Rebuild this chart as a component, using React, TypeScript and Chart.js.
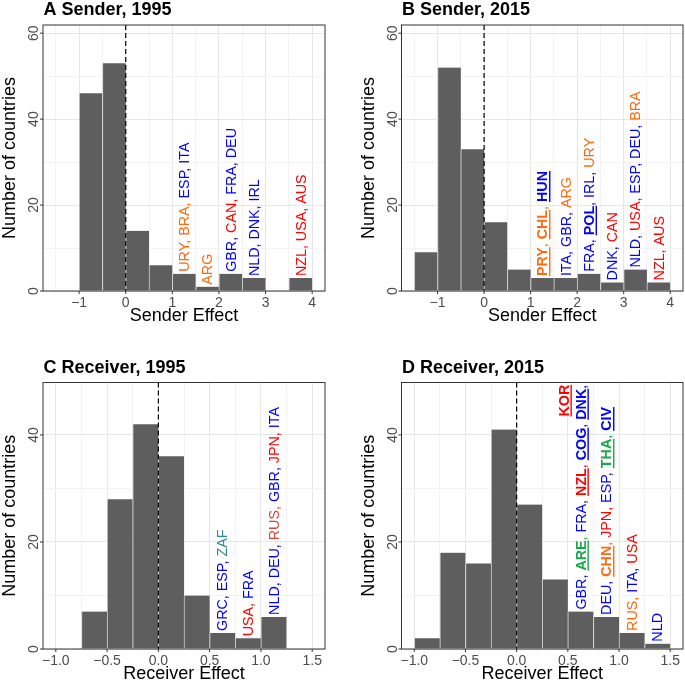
import React, { useEffect, useRef } from "react";
import { Chart, registerables } from "chart.js";

Chart.register(...registerables);

// ---------- data ----------
const senderBins = [-1.25, -0.75, -0.25, 0.25, 0.75, 1.25, 1.75, 2.25, 2.75, 3.25, 3.75];
const sender1995Counts = [0, 46, 53, 14, 6, 4, 1, 4, 3, 0, 3];
const sender2015Counts = [9, 52, 33, 16, 5, 3, 3, 4, 2, 5, 2];

const receiverBins = [-0.875, -0.625, -0.375, -0.125, 0.125, 0.375, 0.625, 0.875, 1.125, 1.375];
const receiver1995Counts = [0, 7, 28, 42, 36, 10, 3, 2, 6, 0];
const receiver2015Counts = [2, 18, 16, 41, 27, 13, 7, 6, 3, 1];

const senderXTicks = [-1.5, -1, -0.5, 0, 0.5, 1, 1.5, 2, 2.5, 3, 3.5, 4];
const senderXMajor = [-1, 0, 1, 2, 3, 4];
const senderXLabels = ["\u22121", "0", "1", "2", "3", "4"];
const receiverXTicks = [-1, -0.75, -0.5, -0.25, 0, 0.25, 0.5, 0.75, 1, 1.25, 1.5];
const receiverXMajor = [-1, -0.5, 0, 0.5, 1, 1.5];
const receiverXLabels = ["\u22121.0", "\u22120.5", "0.0", "0.5", "1.0", "1.5"];

const senderYTicks = [0, 10, 20, 30, 40, 50, 60];
const senderYMajor = [0, 20, 40, 60];
const senderYLabels = ["0", "20", "40", "60"];
const receiverYTicks = [0, 10, 20, 30, 40];
const receiverYMajor = [0, 20, 40];
const receiverYLabels = ["0", "20", "40"];

const BLUE = "#0000FF";
const RED = "#FF0000";
const ORANGE = "#FF6A10";
const GREEN = "#1BA84A";
const TEAL = "#2E8B9A";
const INDIANRED = "#D4493E";

type Seg = [string, string, boolean?];
type Label = { x: number; lines: Seg[][] };

const sender1995Labels: Label[] = [
  { x: 1.25, lines: [[["URY, ", ORANGE], ["BRA, ", ORANGE], ["ESP, ", BLUE], ["ITA", BLUE]]] },
  { x: 1.75, lines: [[["ARG", ORANGE]]] },
  { x: 2.25, lines: [[["GBR, ", BLUE], ["CAN, ", RED], ["FRA, DEU", BLUE]]] },
  { x: 2.75, lines: [[["NLD, DNK, IRL", BLUE]]] },
  { x: 3.75, lines: [[["NZL, USA, AUS", RED]]] },
];

const sender2015Labels: Label[] = [
  { x: 1.25, lines: [[["PRY", ORANGE, true], [", ", ORANGE], ["CHL", ORANGE, true], [", ", ORANGE], ["HUN", BLUE, true]]] },
  { x: 1.75, lines: [[["ITA, GBR, ", BLUE], ["ARG", ORANGE]]] },
  { x: 2.25, lines: [[["FRA, ", BLUE], ["POL", BLUE, true], [", IRL, ", BLUE], ["URY", ORANGE]]] },
  { x: 2.75, lines: [[["DNK, ", BLUE], ["CAN", RED]]] },
  { x: 3.25, lines: [[["NLD, ", BLUE], ["USA, ", RED], ["ESP, DEU, ", BLUE], ["BRA", ORANGE]]] },
  { x: 3.75, lines: [[["NZL, AUS", RED]]] },
];

const receiver1995Labels: Label[] = [
  { x: 0.625, lines: [[["GRC, ESP, ", BLUE], ["ZAF", TEAL]]] },
  { x: 0.875, lines: [[["USA, ", RED], ["FRA", BLUE]]] },
  { x: 1.125, lines: [[["NLD, DEU, ", BLUE], ["RUS, ", INDIANRED], ["GBR, ", BLUE], ["JPN, ", RED], ["ITA", BLUE]]] },
];

const receiver2015Labels: Label[] = [
  {
    x: 0.625,
    lines: [
      [["GBR, ", BLUE], ["ARE", GREEN, true], [", ", GREEN], ["FRA, ", BLUE], ["NZL", RED, true], [", ", RED], ["COG", BLUE, true], [", ", BLUE], ["DNK", BLUE, true], [",", BLUE]],
      [["KOR", RED, true]],
    ],
  },
  { x: 0.875, lines: [[["DEU, ", BLUE], ["CHN", ORANGE, true], [", ", ORANGE], ["JPN, ", RED], ["ESP, ", BLUE], ["THA", GREEN, true], [", ", GREEN], ["CIV", BLUE, true]]] },
  { x: 1.125, lines: [[["RUS, ", ORANGE], ["ITA, ", BLUE], ["USA", RED]]] },
  { x: 1.375, lines: [[["NLD", BLUE]]] },
];

// ---------- panel configs ----------
type PanelCfg = {
  title: string;
  xTitle: string;
  bins: number[];
  counts: number[];
  labels: Label[];
  xMin: number;
  xMax: number;
  yMax: number;
  xTicks: number[];
  xMajor: number[];
  xLabels: string[];
  yTicks: number[];
  yMajor: number[];
  yLabels: string[];
  canvas: [number, number, number, number];
  plot: [number, number, number, number];
};

const panels: PanelCfg[] = [
  {
    title: "A Sender, 1995", xTitle: "Sender Effect", bins: senderBins, counts: sender1995Counts, labels: sender1995Labels,
    xMin: -1.775, xMax: 4.275, yMax: 61.9, xTicks: senderXTicks, xMajor: senderXMajor, xLabels: senderXLabels,
    yTicks: senderYTicks, yMajor: senderYMajor, yLabels: senderYLabels,
    canvas: [0, 0, 342, 330], plot: [43, 25, 325, 291],
  },
  {
    title: "B Sender, 2015", xTitle: "Sender Effect", bins: senderBins, counts: sender2015Counts, labels: sender2015Labels,
    xMin: -1.775, xMax: 4.275, yMax: 61.9, xTicks: senderXTicks, xMajor: senderXMajor, xLabels: senderXLabels,
    yTicks: senderYTicks, yMajor: senderYMajor, yLabels: senderYLabels,
    canvas: [342, 0, 343, 330], plot: [401.5, 25, 683, 291],
  },
  {
    title: "C Receiver, 1995", xTitle: "Receiver Effect", bins: receiverBins, counts: receiver1995Counts, labels: receiver1995Labels,
    xMin: -1.125, xMax: 1.625, yMax: 49.8, xTicks: receiverXTicks, xMajor: receiverXMajor, xLabels: receiverXLabels,
    yTicks: receiverYTicks, yMajor: receiverYMajor, yLabels: receiverYLabels,
    canvas: [0, 330, 342, 351], plot: [43, 382.5, 325, 649],
  },
  {
    title: "D Receiver, 2015", xTitle: "Receiver Effect", bins: receiverBins, counts: receiver2015Counts, labels: receiver2015Labels,
    xMin: -1.125, xMax: 1.625, yMax: 49.8, xTicks: receiverXTicks, xMajor: receiverXMajor, xLabels: receiverXLabels,
    yTicks: receiverYTicks, yMajor: receiverYMajor, yLabels: receiverYLabels,
    canvas: [342, 330, 343, 351], plot: [401.5, 382.5, 683, 649],
  },
];

const FONT = "'Liberation Sans', Arial, Helvetica, sans-serif";
const LABEL_SIZE = 14.3;
const LINE_H = 17;

const isIn = (arr: number[], v: number) => arr.some((a) => Math.abs(a - v) < 1e-9);

function segFont(s: Seg) {
  return `${s[2] ? "bold " : ""}${LABEL_SIZE}px ${FONT}`;
}

function drawLabel(ctx: CanvasRenderingContext2D, xPix: number, yPix: number, lines: Seg[][]) {
  ctx.save();
  ctx.translate(xPix, yPix - 2);
  ctx.rotate(-Math.PI / 2);
  ctx.textAlign = "left";
  ctx.textBaseline = "alphabetic";
  const widths = lines.map((line) =>
    line.reduce((w, s) => {
      ctx.font = segFont(s);
      return w + ctx.measureText(s[0]).width;
    }, 0)
  );
  lines.forEach((line, li) => {
    let cx = li === 0 ? 0 : widths[0] - widths[li];
    const cy = -li * LINE_H + 5;
    for (const s of line) {
      ctx.font = segFont(s);
      ctx.fillStyle = s[1];
      ctx.fillText(s[0], cx, cy);
      const w = ctx.measureText(s[0]).width;
      if (s[2]) ctx.fillRect(cx, cy + 1.8, w, 1.4);
      cx += w;
    }
  });
  ctx.restore();
}

function makeOverlay(cfg: PanelCfg) {
  return {
    id: "overlay",
    afterDatasetsDraw(chart: any) {
      const ctx: CanvasRenderingContext2D = chart.ctx;
      const { left, right, top, bottom } = chart.chartArea;
      const xs = chart.scales.x;
      const ys = chart.scales.y;
      const meta = chart.getDatasetMeta(0);

      // dashed zero line
      ctx.save();
      ctx.strokeStyle = "#000";
      ctx.lineWidth = 1.2;
      ctx.setLineDash([5, 3]);
      const x0 = xs.getPixelForValue(0);
      ctx.beginPath();
      ctx.moveTo(x0, top);
      ctx.lineTo(x0, bottom);
      ctx.stroke();
      ctx.restore();

      // country labels
      cfg.labels.forEach((lab) => {
        const idx = cfg.bins.findIndex((b) => Math.abs(b - lab.x) < 1e-9);
        const el = meta.data[idx];
        drawLabel(ctx, el.x, el.y, lab.lines);
      });

      // panel border
      ctx.save();
      ctx.strokeStyle = "#333333";
      ctx.lineWidth = 1;
      ctx.strokeRect(left, top, right - left, bottom - top);

      // tick marks
      ctx.beginPath();
      cfg.xMajor.forEach((v) => {
        const p = xs.getPixelForValue(v);
        ctx.moveTo(p, bottom);
        ctx.lineTo(p, bottom + 3);
      });
      cfg.yMajor.forEach((v) => {
        const p = ys.getPixelForValue(v);
        ctx.moveTo(left, p);
        ctx.lineTo(left - 3, p);
      });
      ctx.stroke();

      // tick labels
      ctx.fillStyle = "#4D4D4D";
      ctx.font = `14px ${FONT}`;
      ctx.textAlign = "center";
      ctx.textBaseline = "alphabetic";
      cfg.xMajor.forEach((v, i) => {
        ctx.fillText(cfg.xLabels[i], xs.getPixelForValue(v), bottom + 15.5);
      });
      cfg.yMajor.forEach((v, i) => {
        ctx.save();
        ctx.translate(left - 5, ys.getPixelForValue(v));
        ctx.rotate(-Math.PI / 2);
        ctx.fillText(cfg.yLabels[i], 0, 0);
        ctx.restore();
      });

      // axis titles
      ctx.fillStyle = "#000";
      ctx.font = `18px ${FONT}`;
      ctx.fillText(cfg.xTitle, (left + right) / 2, bottom + 30);
      ctx.save();
      ctx.translate(left - 28, (top + bottom) / 2);
      ctx.rotate(-Math.PI / 2);
      ctx.fillText("Number of countries", 0, 0);
      ctx.restore();

      // panel title
      ctx.font = `bold 18px ${FONT}`;
      ctx.textAlign = "left";
      ctx.fillText(cfg.title, left + 0.5, top - 10);
      ctx.restore();
    },
  };
}

function Panel({ cfg }: { cfg: PanelCfg }) {
  const ref = useRef<HTMLCanvasElement>(null);
  useEffect(() => {
    const [cx, cy, cw, ch] = cfg.canvas;
    const [pl, pt, pr, pb] = cfg.plot;
    const gridColor = (major: number[]) => (c: any) =>
      isIn(major, c.tick.value) ? "#E6E6E6" : "#F3F3F3";
    const chart = new Chart(ref.current as HTMLCanvasElement, {
      type: "bar",
      data: {
        datasets: [
          {
            data: cfg.bins.map((x, i) => ({ x, y: cfg.counts[i] })),
            backgroundColor: "#5E5E5E",
            borderColor: "#D2D2D2",
            borderWidth: { left: 1, top: 0, right: 0, bottom: 0 },
            barPercentage: 1,
            categoryPercentage: 1,
          } as any,
        ],
      },
      options: {
        responsive: false,
        animation: false,
        events: [],
        layout: { padding: { left: pl - cx, top: pt - cy, right: cx + cw - pr, bottom: cy + ch - pb } },
        plugins: { legend: { display: false }, tooltip: { enabled: false }, title: { display: false } },
        scales: {
          x: {
            type: "linear",
            min: cfg.xMin,
            max: cfg.xMax,
            offset: false,
            grid: { offset: false, drawTicks: false, color: gridColor(cfg.xMajor), lineWidth: 1 },
            border: { display: false },
            ticks: { display: false },
            afterBuildTicks: (s: any) => {
              s.ticks = cfg.xTicks.map((v) => ({ value: v }));
            },
          },
          y: {
            type: "linear",
            min: 0,
            max: cfg.yMax,
            grid: { drawTicks: false, color: gridColor(cfg.yMajor), lineWidth: 1 },
            border: { display: false },
            ticks: { display: false },
            afterBuildTicks: (s: any) => {
              s.ticks = cfg.yTicks.map((v) => ({ value: v }));
            },
          },
        },
      } as any,
      plugins: [makeOverlay(cfg)],
    });
    return () => chart.destroy();
  }, [cfg]);
  const [cx, cy, cw, ch] = cfg.canvas;
  return (
    <canvas
      ref={ref}
      width={cw}
      height={ch}
      style={{ position: "absolute", left: cx, top: cy, width: cw, height: ch }}
    />
  );
}

export default function App() {
  return (
    <div style={{ position: "absolute", left: 0, top: 0, width: 685, height: 681, background: "#fff", overflow: "hidden" }}>
      {panels.map((p) => (
        <Panel key={p.title} cfg={p} />
      ))}
    </div>
  );
}
